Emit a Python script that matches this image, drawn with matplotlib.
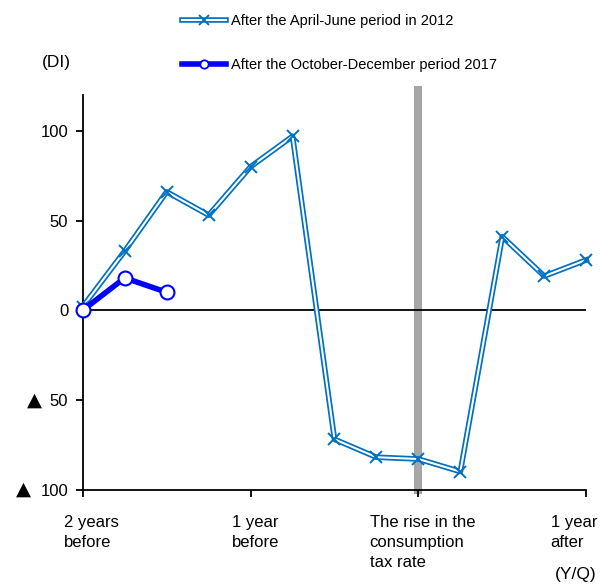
import matplotlib
matplotlib.use("Agg")
import matplotlib.pyplot as plt
from matplotlib.lines import Line2D
from matplotlib.legend_handler import HandlerTuple

# quarters counted from two years before the tax rise (tax rise at quarter 8)
quarters_2012 = list(range(13))
di_2012 = [2, 33, 66, 53, 80, 97, -72, -82, -83, -90, 41, 19, 28]

quarters_2017 = [0, 1, 2]
di_2017 = [0, 18, 10]

yticks = [100, 50, 0, -50, -100]
ytick_labels = ["100", "50", "0", "50", "100"]

xtick_pos = [0, 4, 8, 12]
xlabels = ["2 years\nbefore", "1 year\nbefore", "The rise in the\nconsumption\ntax rate", "1 year\nafter"]
xlabel_x = [-0.45, 3.56, 6.84, 11.15]

c2012 = "#0070C0"
c2017 = "#0000FF"
regular = ["Liberation Sans", "DejaVu Sans"]

fig = plt.figure(figsize=(6.0, 5.86), dpi=100)
ax = fig.add_axes([0.138, 1 - 489.5 / 586, 0.839, 394.5 / 586])

ax.axvline(8, ymin=0, ymax=1 + 5 / 394.5, color="#A6A6A6", lw=5.8,
           zorder=1, clip_on=False)
ax.axhline(0, color="black", lw=1.3, zorder=2)

# double line: thick blue under a thin white core
ax.plot(quarters_2012, di_2012, color=c2012, lw=4.0, zorder=3, clip_on=False)
ax.plot(quarters_2012, di_2012, color="white", lw=1.5, zorder=4, clip_on=False)
ax.plot(quarters_2012, di_2012, ls="none", marker="x", ms=9, mew=1.4,
        color=c2012, zorder=5, clip_on=False)

ax.plot(quarters_2017, di_2017, color=c2017, lw=4, marker="o", ms=10,
        mfc="white", mec=c2017, mew=1.5, zorder=6, clip_on=False)

ax.set_xlim(0, 12)
ax.set_ylim(-100, 120)
ax.spines["top"].set_visible(False)
ax.spines["right"].set_visible(False)
for s in ("left", "bottom"):
    ax.spines[s].set_linewidth(1.3)

ax.set_yticks(yticks)
ax.set_yticklabels(ytick_labels, family=regular, fontsize=12)
ax.set_xticks(xtick_pos)
ax.set_xticklabels([])
ax.tick_params(axis="both", direction="out", length=5, width=1.3, color="black")
ax.tick_params(axis="y", pad=5.5)

# negative values are marked with a black triangle in front of the number
for v, off in [(-50, -29.5), (-100, -37.5)]:
    ax.annotate("\u25b2", xy=(0, v), xycoords=("axes fraction", "data"),
                xytext=(off, 0), textcoords="offset points",
                ha="right", va="center", fontsize=14, family="DejaVu Sans")

for x, lab in zip(xlabel_x, xlabels):
    ax.text(x, -114, lab, ha="left", va="top", fontsize=12, family=regular,
            linespacing=1.45)

fig.text(42 / 600, 1 - 63 / 586, "(DI)", ha="left", va="center", fontsize=12.5, family=regular)
fig.text(597 / 600, 1 - 575 / 586, "(Y/Q)", ha="right", va="center", fontsize=12.5, family=regular)

h2012 = (Line2D([], [], color=c2012, lw=4.0),
         Line2D([], [], color="white", lw=1.5),
         Line2D([], [], ls="none", marker="x", ms=7, mew=1.4, color=c2012))
h2017 = Line2D([], [], color=c2017, lw=4, marker="o", ms=6,
               mfc="white", mec=c2017, mew=1.3)
leg = fig.legend([h2012, h2017],
                 ["After the April-June period in 2012",
                  "After the October-December period 2017"],
                 handler_map={tuple: HandlerTuple(ndivide=1)},
                 loc="upper left", bbox_to_anchor=(178 / 600, 1 - 10 / 586),
                 frameon=False, prop={"family": regular, "size": 10.5},
                 handlelength=3.0, handletextpad=0.35, labelspacing=2.05,
                 borderaxespad=0, borderpad=0.3)

fig.savefig("out.png", dpi=100)
